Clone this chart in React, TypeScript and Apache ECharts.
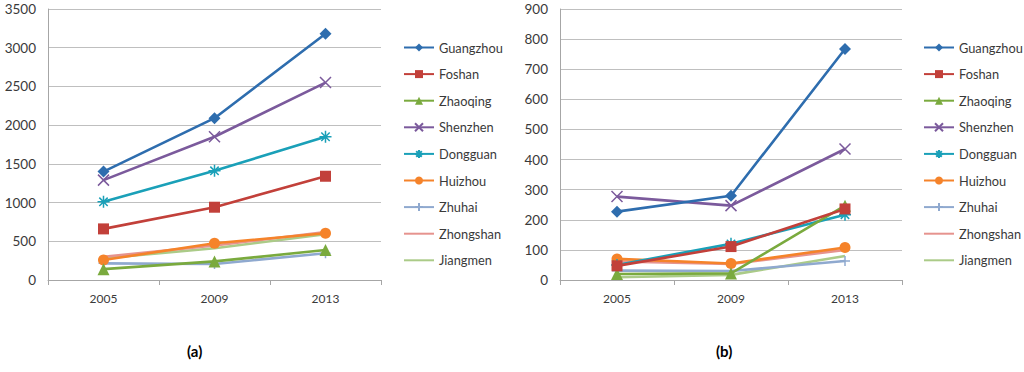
import React, { useEffect, useRef } from "react";
import * as echarts from "echarts";

const years = ["2005", "2009", "2013"];
const cities = ["Guangzhou", "Foshan", "Zhaoqing", "Shenzhen", "Dongguan", "Huizhou", "Zhuhai", "Zhongshan", "Jiangmen"];

// panel (a)
const aGuangzhou = [1400, 2090, 3180];
const aFoshan = [660, 940, 1340];
const aZhaoqing = [140, 240, 388];
const aShenzhen = [1290, 1850, 2550];
const aDongguan = [1010, 1410, 1850];
const aHuizhou = [258, 474, 603];
const aZhuhai = [215, 207, 345];
const aZhongshan = [300, 445, 620];
const aJiangmen = [280, 410, 590];

// panel (b)
const bGuangzhou = [227, 280, 767];
const bFoshan = [47, 111, 236];
const bZhaoqing = [20, 22, 247];
const bShenzhen = [277, 247, 435];
const bDongguan = [50, 120, 217];
const bHuizhou = [70, 55, 108];
const bZhuhai = [31, 30, 63];
const bZhongshan = [62, 53, 100];
const bJiangmen = [9, 17, 80];

const aTicks = { min: 0, max: 3500, interval: 500 };
const bTicks = { min: 0, max: 900, interval: 100 };

const colors = ["#2E6DAE", "#C2403A", "#7AAA3E", "#7B5A9C", "#1AA0B8", "#F5832A", "#8FA9CF", "#E6938E", "#ABCB88"];

const X_PATH = "path://M0,0L10,10M10,0L0,10";
const STAR_PATH = "path://M5,0L5,10M0,5L10,5M1.5,1.5L8.5,8.5M8.5,1.5L1.5,8.5";
const PLUS_PATH = "path://M5,0L5,10M0,5L10,5";

const markers: { symbol: string; size: number; stroke: boolean; show: boolean }[] = [
  { symbol: "diamond", size: 12, stroke: false, show: true },
  { symbol: "rect", size: 11, stroke: false, show: true },
  { symbol: "triangle", size: 12, stroke: false, show: true },
  { symbol: X_PATH, size: 11, stroke: true, show: true },
  { symbol: STAR_PATH, size: 12, stroke: true, show: true },
  { symbol: "circle", size: 11, stroke: false, show: true },
  { symbol: PLUS_PATH, size: 10, stroke: true, show: true },
  { symbol: "circle", size: 1, stroke: false, show: false },
  { symbol: "circle", size: 1, stroke: false, show: false },
];

const aData = [aGuangzhou, aFoshan, aZhaoqing, aShenzhen, aDongguan, aHuizhou, aZhuhai, aZhongshan, aJiangmen];
const bData = [bGuangzhou, bFoshan, bZhaoqing, bShenzhen, bDongguan, bHuizhou, bZhuhai, bZhongshan, bJiangmen];

const FONT = "Lato";
const TEXT = "#3a3a3a";

function makeSeries(data: number[][], idx: number) {
  return data.map((vals, i) => ({
    name: cities[i],
    type: "line",
    xAxisIndex: idx,
    yAxisIndex: idx,
    data: vals,
    color: colors[i],
    symbol: markers[i].symbol,
    symbolSize: markers[i].size,
    showSymbol: markers[i].show,
    lineStyle: { width: 2.6, color: colors[i] },
    itemStyle: {
      color: colors[i],
      borderColor: colors[i],
      borderWidth: markers[i].stroke ? 1.5 : 0,
    },
    z: 10 - i,
  }));
}

function xAxis(idx: number) {
  return {
    type: "category",
    gridIndex: idx,
    data: years,
    boundaryGap: true,
    axisLine: { lineStyle: { color: "#A6A6A6", width: 1 } },
    axisTick: { show: true, length: 5, lineStyle: { color: "#A6A6A6" } },
    axisLabel: { color: TEXT, fontFamily: FONT, fontSize: 12, margin: 12 },
  };
}

function yAxis(idx: number, t: { min: number; max: number; interval: number }) {
  return {
    type: "value",
    gridIndex: idx,
    min: t.min,
    max: t.max,
    interval: t.interval,
    axisLine: { show: true, lineStyle: { color: "#A6A6A6", width: 1 } },
    axisTick: { show: false },
    splitLine: { lineStyle: { color: "#BFBFBF", width: 1 } },
    axisLabel: {
      color: TEXT,
      fontFamily: FONT,
      fontSize: 13.5,
      margin: 12,
      formatter: (v: number) => String(v),
    },
  };
}

function legend(left: number) {
  return {
    orient: "vertical",
    left,
    top: 41,
    padding: 0,
    itemWidth: 30,
    itemHeight: 10,
    itemGap: 13.6,
    itemTextGap: 3,
    data: cities.map((name, i) =>
      markers[i].show ? { name } : { name, itemStyle: { opacity: 0 } }
    ),
    textStyle: { color: TEXT, fontFamily: FONT, fontSize: 12.8 },
    selectedMode: false,
  };
}

export default function App() {
  const ref = useRef<HTMLDivElement>(null);
  useEffect(() => {
    if (!ref.current) return;
    const chart = echarts.init(ref.current, null, { renderer: "svg" });
    chart.setOption({
      animation: false,
      backgroundColor: "#ffffff",
      grid: [
        { left: 48, right: 643, top: 9, bottom: 92, containLabel: false },
        { left: 560, right: 122, top: 9, bottom: 92, containLabel: false },
      ],
      xAxis: [xAxis(0), xAxis(1)],
      yAxis: [yAxis(0, aTicks), yAxis(1, bTicks)],
      legend: [legend(403), legend(923)],
      series: [...makeSeries(aData, 0), ...makeSeries(bData, 1)],
      graphic: [
        {
          type: "text",
          left: 187,
          top: 343,
          style: { text: "(a)", fontFamily: FONT, fontSize: 15, fontWeight: "bold", fill: "#000" },
        },
        {
          type: "text",
          left: 716,
          top: 343,
          style: { text: "(b)", fontFamily: FONT, fontSize: 15, fontWeight: "bold", fill: "#000" },
        },
      ],
    });
    return () => chart.dispose();
  }, []);
  return (
    <div
      ref={ref}
      style={{ position: "fixed", left: 0, top: 0, width: 1024, height: 372, background: "#fff" }}
    />
  );
}
